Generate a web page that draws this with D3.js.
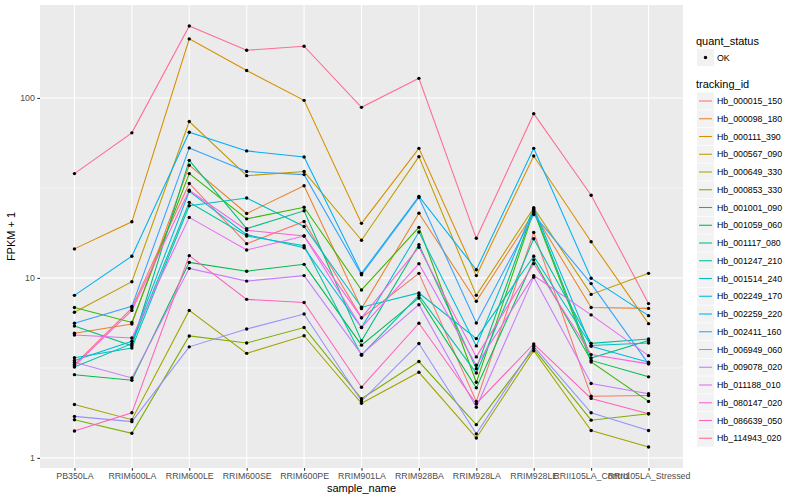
<!DOCTYPE html>
<html>
<head>
<meta charset="utf-8">
<script src="https://cdn.jsdelivr.net/npm/d3@7"></script>
<style>
  body { margin: 0; background: #fff; }
  svg { font-family: "Liberation Sans", Arial, sans-serif; }
</style>
</head>
<body>
<div class="div-chart"></div>
<script>
// samples on the x axis
const samples = ["PB350LA", "RRIM600LA", "RRIM600LE", "RRIM600SE", "RRIM600PE", "RRIM901LA",
  "RRIM928BA", "RRIM928LA", "RRIM928LE", "RRII105LA_Control", "RRII105LA_Stressed"];

const trackingIds = ["Hb_000015_150", "Hb_000098_180", "Hb_000111_390", "Hb_000567_090",
  "Hb_000649_330", "Hb_000853_330", "Hb_001001_090", "Hb_001059_060", "Hb_001117_080",
  "Hb_001247_210", "Hb_001514_240", "Hb_002249_170", "Hb_002259_220", "Hb_002411_160",
  "Hb_006949_060", "Hb_009078_020", "Hb_011188_010", "Hb_080147_020", "Hb_086639_050",
  "Hb_114943_020"];

// FPKM + 1, one row per tracking id, one value per sample
const fpkmPlusOne = [
  [3.3, 6.8, 33.5, 15.5, 20.6, 6.0, 10.6, 2.06, 17.9, 2.2, 2.22],      // Hb_000015_150
  [4.93, 5.55, 42.3, 22.8, 32.5, 6.75, 22.9, 7.42, 23.0, 6.85, 6.77],  // Hb_000098_180
  [14.5, 20.5, 213, 142, 97, 20.1, 52.5, 10.3, 47.6, 15.9, 5.57],      // Hb_000111_390
  [6.45, 9.53, 74, 37, 39, 16.2, 47.2, 8.0, 24.5, 8.1, 10.6],          // Hb_000567_090
  [1.98, 1.63, 6.6, 3.81, 4.77, 2.01, 2.99, 1.29, 3.94, 1.42, 1.15],   // Hb_000649_330
  [1.63, 1.37, 4.76, 4.35, 5.3, 2.13, 3.43, 1.53, 4.05, 1.62, 1.76],   // Hb_000853_330
  [6.85, 5.66, 38, 21.3, 24.7, 8.57, 19.1, 2.63, 23.5, 3.41, 2.06],    // Hb_001001_090
  [2.9, 2.7, 12.2, 10.9, 11.9, 4.23, 7.74, 2.45, 12.6, 3.48, 2.82],    // Hb_001059_060
  [5.4, 4.2, 45, 18.8, 23.6, 4.47, 15.3, 3.13, 24.0, 3.59, 4.49],      // Hb_001117_080
  [3.2, 4.31, 26.3, 17.1, 15.1, 3.72, 8.0, 2.96, 16.5, 4.33, 4.58],    // Hb_001247_210
  [3.6, 4.08, 25.2, 27.8, 19.3, 6.87, 8.25, 4.6, 13.2, 4.21, 4.35],    // Hb_001514_240
  [3.48, 4.45, 30.3, 17.4, 14.7, 5.3, 18.0, 4.19, 24.5, 4.17, 3.4],    // Hb_002249_170
  [8.0, 13.2, 64.5, 50.8, 47, 10.6, 28.4, 11.1, 52.5, 9.96, 6.17],     // Hb_002259_220
  [5.6, 6.95, 52.8, 39, 37.5, 10.4, 28.0, 5.62, 22.5, 9.3, 3.33],      // Hb_002411_160
  [1.70, 1.59, 4.14, 5.2, 6.3, 2.07, 4.32, 1.36, 4.17, 1.78, 1.42],    // Hb_006949_060
  [3.4, 2.78, 11.3, 9.6, 10.3, 3.76, 7.1, 1.91, 10.1, 2.59, 2.27],     // Hb_009078_020
  [4.82, 4.64, 21.7, 14.3, 17.1, 5.3, 12.0, 3.27, 10.3, 6.23, 3.7],    // Hb_011188_010
  [3.25, 6.6, 30.7, 18.4, 17.1, 6.0, 14.8, 3.64, 12.0, 3.75, 3.33],    // Hb_080147_020
  [1.41, 1.78, 13.3, 7.6, 7.3, 2.47, 5.6, 2.0, 4.30, 2.14, 1.76],      // Hb_086639_050
  [38, 64, 251, 184, 194, 88.7, 128.5, 16.6, 81.8, 28.8, 7.2]          // Hb_114943_020
];

const yTicks = [1, 10, 100];
const yMinor = [Math.pow(10, 0.5), Math.pow(10, 1.5)];

// ggplot default hue palette for 20 levels
const palette = ["#F8766D", "#EA8331", "#D89000", "#C09B00", "#A3A500", "#7CAE00", "#39B600",
  "#00BB4E", "#00BF7D", "#00C1A3", "#00BFC4", "#00BAE0", "#00B0F6", "#35A2FF", "#9590FF",
  "#C77CFF", "#E76BF3", "#FA62DB", "#FF62BC", "#FF6C91"];

const width = 800, height = 500;
const panel = { left: 40, right: 683, top: 5, bottom: 468 };

const svg = d3.select(".div-chart").append("svg")
  .attr("width", width).attr("height", height);

const x = d3.scalePoint()
  .domain(samples)
  .range([panel.left, panel.right])
  .padding(0.6);

// log scale with ggplot's 5% expansion in log space
const allVals = fpkmPlusOne.flat();
const lo = Math.log10(d3.min(allVals)), hi = Math.log10(d3.max(allVals));
const pad = (hi - lo) * 0.05;
const y = d3.scaleLog()
  .domain([Math.pow(10, lo - pad), Math.pow(10, hi + pad)])
  .range([panel.bottom, panel.top]);

const color = d3.scaleOrdinal().domain(trackingIds).range(palette);

// panel background + grid
svg.append("rect")
  .attr("x", panel.left).attr("y", panel.top)
  .attr("width", panel.right - panel.left).attr("height", panel.bottom - panel.top)
  .attr("fill", "#EBEBEB");

const grid = svg.append("g").attr("id", "grid");
grid.selectAll(".minor").data(yMinor).join("line")
  .attr("x1", panel.left).attr("x2", panel.right)
  .attr("y1", d => y(d)).attr("y2", d => y(d))
  .attr("stroke", "#fff").attr("stroke-width", 0.55);
grid.selectAll(".hmajor").data(yTicks).join("line")
  .attr("class", "hmajor")
  .attr("x1", panel.left).attr("x2", panel.right)
  .attr("y1", d => y(d)).attr("y2", d => y(d))
  .attr("stroke", "#fff").attr("stroke-width", 1.1);
grid.selectAll(".vmajor").data(samples).join("line")
  .attr("class", "vmajor")
  .attr("x1", d => x(d)).attr("x2", d => x(d))
  .attr("y1", panel.top).attr("y2", panel.bottom)
  .attr("stroke", "#fff").attr("stroke-width", 1.1);

// axes
const xAxis = svg.append("g")
  .attr("transform", `translate(0,${panel.bottom})`)
  .call(d3.axisBottom(x).tickSize(2.7).tickPadding(2.5));
const yAxis = svg.append("g")
  .attr("transform", `translate(${panel.left},0)`)
  .call(d3.axisLeft(y).tickValues(yTicks).tickFormat(d3.format("d")).tickSize(2.7).tickPadding(2.5));

[xAxis, yAxis].forEach(a => {
  a.select(".domain").remove();
  a.selectAll(".tick line").attr("stroke", "#333333").attr("stroke-width", 1.07);
  a.selectAll(".tick text").attr("fill", "#4D4D4D").style("font-size", "8.8px");
});

svg.append("text")
  .attr("x", (panel.left + panel.right) / 2).attr("y", 492)
  .attr("text-anchor", "middle").style("font-size", "11px").attr("fill", "#000")
  .text("sample_name");
svg.append("text")
  .attr("transform", `translate(15,${(panel.top + panel.bottom) / 2}) rotate(-90)`)
  .attr("text-anchor", "middle").style("font-size", "11px").attr("fill", "#000")
  .text("FPKM + 1");

// series lines + points
const series = trackingIds.map((id, i) => ({
  id,
  values: samples.map((s, j) => ({ sample: s, v: fpkmPlusOne[i][j] }))
}));

const line = d3.line().x(d => x(d.sample)).y(d => y(d.v));

const plotG = svg.append("g").attr("id", "main-g");
plotG.selectAll(".series").data(series).join("path")
  .attr("class", "series")
  .attr("d", d => line(d.values))
  .attr("fill", "none")
  .attr("stroke", d => color(d.id))
  .attr("stroke-width", 1.07);

plotG.selectAll(".pt").data(series.flatMap(d => d.values)).join("circle")
  .attr("class", "pt")
  .attr("cx", d => x(d.sample)).attr("cy", d => y(d.v))
  .attr("r", 1.7).attr("fill", "#000");

// legends
const legend = svg.append("g").attr("transform", "translate(696,0)");
legend.append("text").attr("x", 0).attr("y", 44.5)
  .style("font-size", "11px").text("quant_status");
legend.append("rect").attr("x", 1).attr("y", 49).attr("width", 17).attr("height", 17)
  .attr("fill", "#F2F2F2");
legend.append("circle").attr("cx", 9.5).attr("cy", 57.5).attr("r", 1.7).attr("fill", "#000");
legend.append("text").attr("x", 21).attr("y", 60.5)
  .style("font-size", "8.8px").text("OK");

legend.append("text").attr("x", 0).attr("y", 88)
  .style("font-size", "11px").text("tracking_id");

const keyStep = 17.75;
const keys = legend.selectAll(".key").data(trackingIds).join("g")
  .attr("class", "key")
  .attr("transform", (d, i) => `translate(1,${92.5 + i * keyStep})`);
keys.append("rect").attr("width", 17).attr("height", 17).attr("fill", "#F2F2F2");
keys.append("line")
  .attr("x1", 2).attr("x2", 15).attr("y1", 8.5).attr("y2", 8.5)
  .attr("stroke", d => color(d)).attr("stroke-width", 1.07);
keys.append("text").attr("x", 20).attr("y", 11.5)
  .style("font-size", "8.8px").text(d => d);
</script>
</body>
</html>
